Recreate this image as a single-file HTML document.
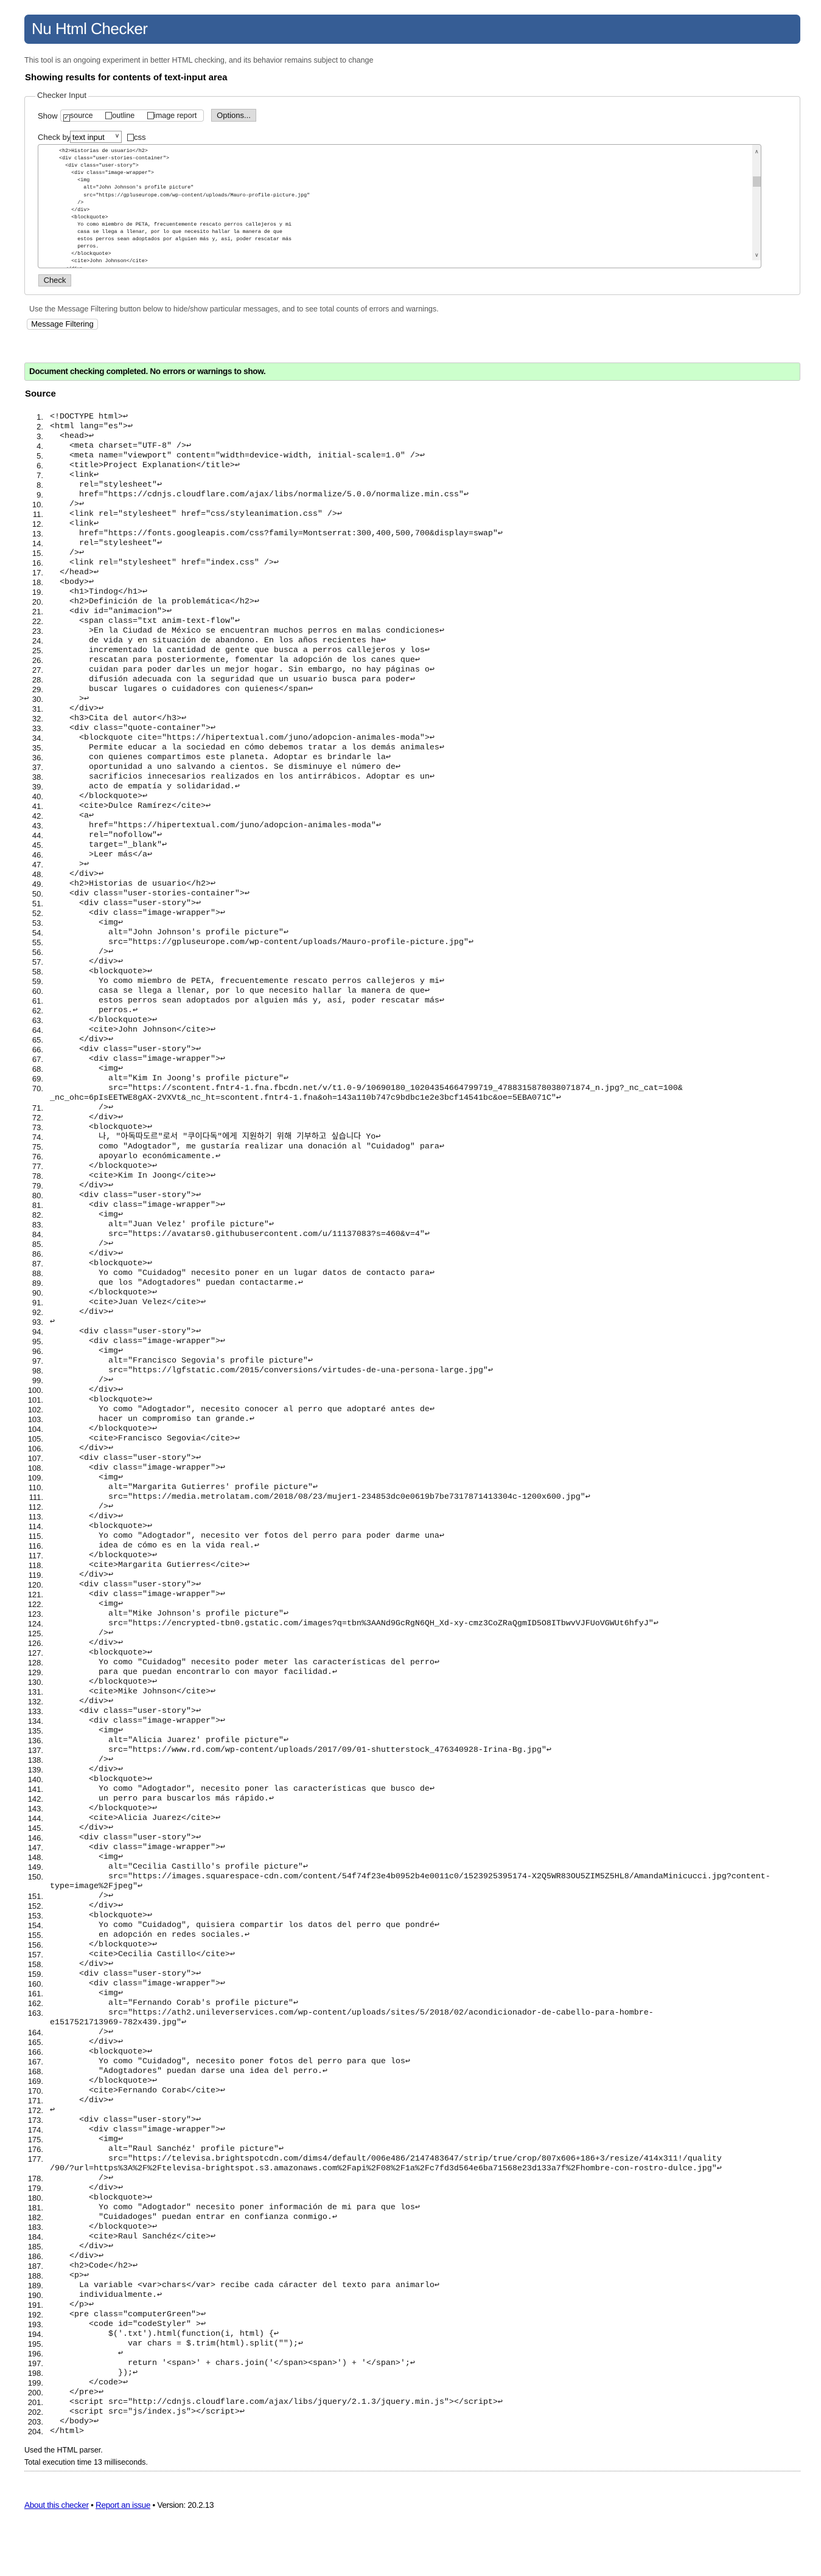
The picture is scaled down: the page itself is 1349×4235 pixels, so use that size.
<!DOCTYPE html>
<html><head><meta charset="utf-8">
<style>
*{margin:0;padding:0;box-sizing:border-box}
body{width:1349px;height:4235px;background:#fff;position:relative;font-family:"Liberation Sans",Arial,sans-serif;color:#000;overflow:hidden}
.abs{position:absolute}
#hdr{left:40px;top:24px;width:1275px;height:48px;background:#365d95;border-radius:7px}
#hdr span{position:absolute;left:12px;top:8px;color:#fff;font-size:26px;letter-spacing:-0.5px}
.gray{color:#555;font-size:12.5px}
h2.t{position:absolute;font-size:15px;font-weight:bold;color:#000}
#fs{left:40px;top:158px;width:1275px;height:327px;border:1px solid #ccc;border-radius:4px}
#legend{left:58px;top:149px;background:#fff;padding:0 3px;font-size:13px;color:#333}
.lab{font-size:13px;color:#222}
.cb{display:inline-block;width:11px;height:12px;border:1px solid #444;vertical-align:-2px;background:#fff}
#ta{left:62px;top:237px;width:1189px;height:204px;border:1px solid #aaa;border-radius:4px;overflow:hidden}
#ta pre{position:absolute;left:24px;top:4px;font-family:"Liberation Mono",monospace;font-size:8.4px;line-height:12.1px;color:#111}
.btn{background:#ddd;border:1px solid #bbb;font-size:13px;text-align:center;color:#111}
#nums{left:0;top:678px;width:71px;text-align:right;font-size:13px;line-height:16px;white-space:pre;color:#111}
#code{left:82px;top:678px;font-family:"Liberation Mono","DejaVu Sans Mono","Noto Sans CJK KR",monospace;font-size:13.33px;line-height:16px;white-space:pre;color:#111}
#ok{left:40px;top:596px;width:1275px;height:30px;background:#ccffcc;border:1px solid #c8c8c8;border-radius:3px}
#ok span{position:absolute;left:7px;top:6px;font-size:13.5px;font-weight:bold;letter-spacing:-0.3px}
a{color:#00c}
</style></head><body>
<div id="hdr" class="abs"><span>Nu Html Checker</span></div>
<div class="abs gray" style="left:40px;top:92px">This tool is an ongoing experiment in better HTML checking, and its behavior remains subject to change</div>
<h2 class="t" style="left:41px;top:119px">Showing results for contents of text-input area</h2>
<div id="fs" class="abs"></div>
<div id="legend" class="abs">Checker Input</div>
<div class="abs lab" style="left:62px;top:183px">Show</div>
<div class="abs" style="left:99px;top:180px;width:236px;height:20px;border:1px solid #ccc;border-radius:4px;background:#fff"></div>
<div class="abs lab" style="left:104px;top:183px;font-size:12.5px"><span class="cb" style="font-size:10px;line-height:9px">✓</span>source &nbsp;&nbsp;&nbsp;&nbsp;&nbsp;<span class="cb"></span>outline &nbsp;&nbsp;&nbsp;&nbsp;&nbsp;<span class="cb"></span>image report</div>
<div class="abs btn" style="left:347px;top:179px;width:74px;height:21px;line-height:19px">Options...</div>
<div class="abs lab" style="left:62px;top:218px">Check by</div>
<div class="abs" style="left:115px;top:215px;width:85px;height:20px;border:1px solid #999;font-size:13px;padding:2px 3px;background:#fff">text input<span style="position:absolute;right:4px;top:2px;font-size:10px">v</span></div>
<div class="abs lab" style="left:209px;top:218px"><span class="cb"></span>css</div>
<div id="ta" class="abs"><pre>  &lt;h2&gt;Historias de usuario&lt;/h2&gt;
  &lt;div class="user-stories-container"&gt;
    &lt;div class="user-story"&gt;
      &lt;div class="image-wrapper"&gt;
        &lt;img
          alt="John Johnson's profile picture"
          src="https://gpluseurope.com/wp-content/uploads/Mauro-profile-picture.jpg"
        /&gt;
      &lt;/div&gt;
      &lt;blockquote&gt;
        Yo como miembro de PETA, frecuentemente rescato perros callejeros y mi
        casa se llega a llenar, por lo que necesito hallar la manera de que
        estos perros sean adoptados por alguien más y, así, poder rescatar más
        perros.
      &lt;/blockquote&gt;
      &lt;cite&gt;John Johnson&lt;/cite&gt;
    &lt;/div&gt;</pre>
<div class="abs" style="left:1173px;top:0;width:15px;height:190px;background:#f0f0f0"></div>
<div class="abs" style="left:1174px;top:52px;width:13px;height:17px;background:#c8c8c8"></div>
<div class="abs" style="left:1177px;top:6px;font-size:9px;color:#555">∧</div>
<div class="abs" style="left:1177px;top:176px;font-size:9px;color:#555">∨</div>
</div>
<div class="abs btn" style="left:63px;top:451px;width:54px;height:20px;line-height:18px">Check</div>
<div class="abs gray" style="left:48px;top:501px">Use the Message Filtering button below to hide/show particular messages, and to see total counts of errors and warnings.</div>
<div class="abs" style="left:44px;top:524px;width:117px;height:18px;border:1px solid #ccc;border-radius:4px;background:#fff;font-size:13px;text-align:center;line-height:16px">Message Filtering</div>

<div id="ok" class="abs"><span>Document checking completed. No errors or warnings to show.</span></div>
<h2 class="t" style="left:41px;top:639px">Source</h2>

<div id="nums" class="abs">1.
2.
3.
4.
5.
6.
7.
8.
9.
10.
11.
12.
13.
14.
15.
16.
17.
18.
19.
20.
21.
22.
23.
24.
25.
26.
27.
28.
29.
30.
31.
32.
33.
34.
35.
36.
37.
38.
39.
40.
41.
42.
43.
44.
45.
46.
47.
48.
49.
50.
51.
52.
53.
54.
55.
56.
57.
58.
59.
60.
61.
62.
63.
64.
65.
66.
67.
68.
69.
70.

71.
72.
73.
74.
75.
76.
77.
78.
79.
80.
81.
82.
83.
84.
85.
86.
87.
88.
89.
90.
91.
92.
93.
94.
95.
96.
97.
98.
99.
100.
101.
102.
103.
104.
105.
106.
107.
108.
109.
110.
111.
112.
113.
114.
115.
116.
117.
118.
119.
120.
121.
122.
123.
124.
125.
126.
127.
128.
129.
130.
131.
132.
133.
134.
135.
136.
137.
138.
139.
140.
141.
142.
143.
144.
145.
146.
147.
148.
149.
150.

151.
152.
153.
154.
155.
156.
157.
158.
159.
160.
161.
162.
163.

164.
165.
166.
167.
168.
169.
170.
171.
172.
173.
174.
175.
176.
177.

178.
179.
180.
181.
182.
183.
184.
185.
186.
187.
188.
189.
190.
191.
192.
193.
194.
195.
196.
197.
198.
199.
200.
201.
202.
203.
204.</div>
<div id="code" class="abs">&lt;!DOCTYPE html&gt;↩
&lt;html lang="es"&gt;↩
  &lt;head&gt;↩
    &lt;meta charset="UTF-8" /&gt;↩
    &lt;meta name="viewport" content="width=device-width, initial-scale=1.0" /&gt;↩
    &lt;title&gt;Project Explanation&lt;/title&gt;↩
    &lt;link↩
      rel="stylesheet"↩
      href="https://cdnjs.cloudflare.com/ajax/libs/normalize/5.0.0/normalize.min.css"↩
    /&gt;↩
    &lt;link rel="stylesheet" href="css/styleanimation.css" /&gt;↩
    &lt;link↩
      href="https://fonts.googleapis.com/css?family=Montserrat:300,400,500,700&amp;display=swap"↩
      rel="stylesheet"↩
    /&gt;↩
    &lt;link rel="stylesheet" href="index.css" /&gt;↩
  &lt;/head&gt;↩
  &lt;body&gt;↩
    &lt;h1&gt;Tindog&lt;/h1&gt;↩
    &lt;h2&gt;Definición de la problemática&lt;/h2&gt;↩
    &lt;div id="animacion"&gt;↩
      &lt;span class="txt anim-text-flow"↩
        &gt;En la Ciudad de México se encuentran muchos perros en malas condiciones↩
        de vida y en situación de abandono. En los años recientes ha↩
        incrementado la cantidad de gente que busca a perros callejeros y los↩
        rescatan para posteriormente, fomentar la adopción de los canes que↩
        cuidan para poder darles un mejor hogar. Sin embargo, no hay páginas o↩
        difusión adecuada con la seguridad que un usuario busca para poder↩
        buscar lugares o cuidadores con quienes&lt;/span↩
      &gt;↩
    &lt;/div&gt;↩
    &lt;h3&gt;Cita del autor&lt;/h3&gt;↩
    &lt;div class="quote-container"&gt;↩
      &lt;blockquote cite="https://hipertextual.com/juno/adopcion-animales-moda"&gt;↩
        Permite educar a la sociedad en cómo debemos tratar a los demás animales↩
        con quienes compartimos este planeta. Adoptar es brindarle la↩
        oportunidad a uno salvando a cientos. Se disminuye el número de↩
        sacrificios innecesarios realizados en los antirrábicos. Adoptar es un↩
        acto de empatía y solidaridad.↩
      &lt;/blockquote&gt;↩
      &lt;cite&gt;Dulce Ramírez&lt;/cite&gt;↩
      &lt;a↩
        href="https://hipertextual.com/juno/adopcion-animales-moda"↩
        rel="nofollow"↩
        target="_blank"↩
        &gt;Leer más&lt;/a↩
      &gt;↩
    &lt;/div&gt;↩
    &lt;h2&gt;Historias de usuario&lt;/h2&gt;↩
    &lt;div class="user-stories-container"&gt;↩
      &lt;div class="user-story"&gt;↩
        &lt;div class="image-wrapper"&gt;↩
          &lt;img↩
            alt="John Johnson's profile picture"↩
            src="https://gpluseurope.com/wp-content/uploads/Mauro-profile-picture.jpg"↩
          /&gt;↩
        &lt;/div&gt;↩
        &lt;blockquote&gt;↩
          Yo como miembro de PETA, frecuentemente rescato perros callejeros y mi↩
          casa se llega a llenar, por lo que necesito hallar la manera de que↩
          estos perros sean adoptados por alguien más y, así, poder rescatar más↩
          perros.↩
        &lt;/blockquote&gt;↩
        &lt;cite&gt;John Johnson&lt;/cite&gt;↩
      &lt;/div&gt;↩
      &lt;div class="user-story"&gt;↩
        &lt;div class="image-wrapper"&gt;↩
          &lt;img↩
            alt="Kim In Joong's profile picture"↩
            src="https://scontent.fntr4-1.fna.fbcdn.net/v/t1.0-9/10690180_10204354664799719_4788315878038071874_n.jpg?_nc_cat=100&amp;
_nc_ohc=6pIsEETWE8gAX-2VXVt&amp;_nc_ht=scontent.fntr4-1.fna&amp;oh=143a110b747c9bdbc1e2e3bcf14541bc&amp;oe=5EBA071C"↩
          /&gt;↩
        &lt;/div&gt;↩
        &lt;blockquote&gt;↩
          나, "아독따도르"로서 "쿠이다독"에게 지원하기 위해 기부하고 싶습니다 Yo↩
          como "Adogtador", me gustaría realizar una donación al "Cuidadog" para↩
          apoyarlo económicamente.↩
        &lt;/blockquote&gt;↩
        &lt;cite&gt;Kim In Joong&lt;/cite&gt;↩
      &lt;/div&gt;↩
      &lt;div class="user-story"&gt;↩
        &lt;div class="image-wrapper"&gt;↩
          &lt;img↩
            alt="Juan Velez' profile picture"↩
            src="https://avatars0.githubusercontent.com/u/11137083?s=460&amp;v=4"↩
          /&gt;↩
        &lt;/div&gt;↩
        &lt;blockquote&gt;↩
          Yo como "Cuidadog" necesito poner en un lugar datos de contacto para↩
          que los "Adogtadores" puedan contactarme.↩
        &lt;/blockquote&gt;↩
        &lt;cite&gt;Juan Velez&lt;/cite&gt;↩
      &lt;/div&gt;↩
↩
      &lt;div class="user-story"&gt;↩
        &lt;div class="image-wrapper"&gt;↩
          &lt;img↩
            alt="Francisco Segovia's profile picture"↩
            src="https://lgfstatic.com/2015/conversions/virtudes-de-una-persona-large.jpg"↩
          /&gt;↩
        &lt;/div&gt;↩
        &lt;blockquote&gt;↩
          Yo como "Adogtador", necesito conocer al perro que adoptaré antes de↩
          hacer un compromiso tan grande.↩
        &lt;/blockquote&gt;↩
        &lt;cite&gt;Francisco Segovia&lt;/cite&gt;↩
      &lt;/div&gt;↩
      &lt;div class="user-story"&gt;↩
        &lt;div class="image-wrapper"&gt;↩
          &lt;img↩
            alt="Margarita Gutierres' profile picture"↩
            src="https://media.metrolatam.com/2018/08/23/mujer1-234853dc0e0619b7be7317871413304c-1200x600.jpg"↩
          /&gt;↩
        &lt;/div&gt;↩
        &lt;blockquote&gt;↩
          Yo como "Adogtador", necesito ver fotos del perro para poder darme una↩
          idea de cómo es en la vida real.↩
        &lt;/blockquote&gt;↩
        &lt;cite&gt;Margarita Gutierres&lt;/cite&gt;↩
      &lt;/div&gt;↩
      &lt;div class="user-story"&gt;↩
        &lt;div class="image-wrapper"&gt;↩
          &lt;img↩
            alt="Mike Johnson's profile picture"↩
            src="https://encrypted-tbn0.gstatic.com/images?q=tbn%3AANd9GcRgN6QH_Xd-xy-cmz3CoZRaQgmID5O8ITbwvVJFUoVGWUt6hfyJ"↩
          /&gt;↩
        &lt;/div&gt;↩
        &lt;blockquote&gt;↩
          Yo como "Cuidadog" necesito poder meter las características del perro↩
          para que puedan encontrarlo con mayor facilidad.↩
        &lt;/blockquote&gt;↩
        &lt;cite&gt;Mike Johnson&lt;/cite&gt;↩
      &lt;/div&gt;↩
      &lt;div class="user-story"&gt;↩
        &lt;div class="image-wrapper"&gt;↩
          &lt;img↩
            alt="Alicia Juarez' profile picture"↩
            src="https://www.rd.com/wp-content/uploads/2017/09/01-shutterstock_476340928-Irina-Bg.jpg"↩
          /&gt;↩
        &lt;/div&gt;↩
        &lt;blockquote&gt;↩
          Yo como "Adogtador", necesito poner las características que busco de↩
          un perro para buscarlos más rápido.↩
        &lt;/blockquote&gt;↩
        &lt;cite&gt;Alicia Juarez&lt;/cite&gt;↩
      &lt;/div&gt;↩
      &lt;div class="user-story"&gt;↩
        &lt;div class="image-wrapper"&gt;↩
          &lt;img↩
            alt="Cecilia Castillo's profile picture"↩
            src="https://images.squarespace-cdn.com/content/54f74f23e4b0952b4e0011c0/1523925395174-X2Q5WR83OU5ZIM5Z5HL8/AmandaMinicucci.jpg?content-
type=image%2Fjpeg"↩
          /&gt;↩
        &lt;/div&gt;↩
        &lt;blockquote&gt;↩
          Yo como "Cuidadog", quisiera compartir los datos del perro que pondré↩
          en adopción en redes sociales.↩
        &lt;/blockquote&gt;↩
        &lt;cite&gt;Cecilia Castillo&lt;/cite&gt;↩
      &lt;/div&gt;↩
      &lt;div class="user-story"&gt;↩
        &lt;div class="image-wrapper"&gt;↩
          &lt;img↩
            alt="Fernando Corab's profile picture"↩
            src="https://ath2.unileverservices.com/wp-content/uploads/sites/5/2018/02/acondicionador-de-cabello-para-hombre-
e1517521713969-782x439.jpg"↩
          /&gt;↩
        &lt;/div&gt;↩
        &lt;blockquote&gt;↩
          Yo como "Cuidadog", necesito poner fotos del perro para que los↩
          "Adogtadores" puedan darse una idea del perro.↩
        &lt;/blockquote&gt;↩
        &lt;cite&gt;Fernando Corab&lt;/cite&gt;↩
      &lt;/div&gt;↩
↩
      &lt;div class="user-story"&gt;↩
        &lt;div class="image-wrapper"&gt;↩
          &lt;img↩
            alt="Raul Sanchéz' profile picture"↩
            src="https://televisa.brightspotcdn.com/dims4/default/006e486/2147483647/strip/true/crop/807x606+186+3/resize/414x311!/quality
/90/?url=https%3A%2F%2Ftelevisa-brightspot.s3.amazonaws.com%2Fapi%2F08%2F1a%2Fc7fd3d564e6ba71568e23d133a7f%2Fhombre-con-rostro-dulce.jpg"↩
          /&gt;↩
        &lt;/div&gt;↩
        &lt;blockquote&gt;↩
          Yo como "Adogtador" necesito poner información de mi para que los↩
          "Cuidadoges" puedan entrar en confianza conmigo.↩
        &lt;/blockquote&gt;↩
        &lt;cite&gt;Raul Sanchéz&lt;/cite&gt;↩
      &lt;/div&gt;↩
    &lt;/div&gt;↩
    &lt;h2&gt;Code&lt;/h2&gt;↩
    &lt;p&gt;↩
      La variable &lt;var&gt;chars&lt;/var&gt; recibe cada cáracter del texto para animarlo↩
      individualmente.↩
    &lt;/p&gt;↩
    &lt;pre class="computerGreen"&gt;↩
        &lt;code id="codeStyler" &gt;↩
            $('.txt').html(function(i, html) {↩
                var chars = $.trim(html).split("");↩
              ↩
                return '&lt;span&gt;' + chars.join('&lt;/span&gt;&lt;span&gt;') + '&lt;/span&gt;';↩
              });↩
        &lt;/code&gt;↩
    &lt;/pre&gt;↩
    &lt;script src="http://cdnjs.cloudflare.com/ajax/libs/jquery/2.1.3/jquery.min.js"&gt;&lt;/script&gt;↩
    &lt;script src="js/index.js"&gt;&lt;/script&gt;↩
  &lt;/body&gt;↩
&lt;/html&gt;</div>

<div class="abs" style="left:40px;top:4021px;font-size:12.5px">Used the HTML parser.</div>
<div class="abs" style="left:40px;top:4041px;font-size:12.5px">Total execution time 13 milliseconds.</div>
<div class="abs" style="left:40px;top:4062px;width:1275px;border-top:1px dotted #888"></div>
<div class="abs" style="left:40px;top:4111px;font-size:13.5px;letter-spacing:-0.3px"><a href="#">About this checker</a> • <a href="#">Report an issue</a> • Version: 20.2.13</div>
</body></html>
